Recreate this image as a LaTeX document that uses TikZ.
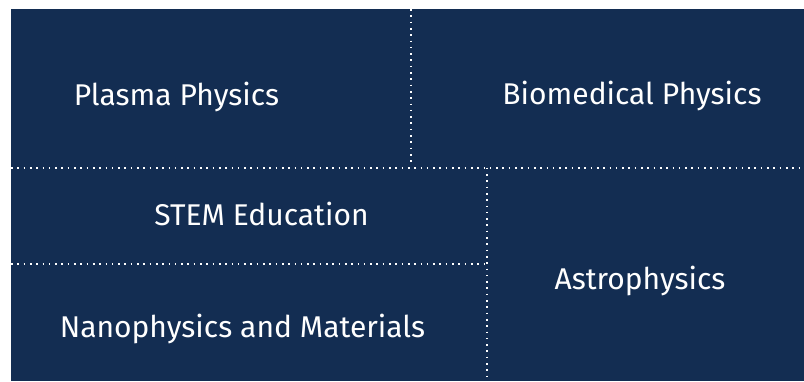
\documentclass[tikz,border=0pt]{standalone}
\usepackage{fontspec}
\setmainfont{Fira Sans}
\usepackage{xcolor}
\usetikzlibrary{positioning}
\definecolor{navy}{RGB}{19,45,82}

\begin{document}
\begin{tikzpicture}[
  x=1pt, y=-1pt,
  area/.style={text=white, anchor=base, font=\fontsize{30}{35}\selectfont},
  divider/.style={white, line width=1.6pt, dash pattern=on 1.6pt off 4.7pt}
]
\useasboundingbox (0,0) rectangle (804,381);
\fill[navy] (11,9) rectangle (804,381);

% dividers
\coordinate (topmid) at (410.7,9);
\coordinate (topmidend) at (410.7,162);
\coordinate (rowleft) at (11,167.7);
\coordinate (rowright) at (804,167.7);
\coordinate (lowmid) at (486.7,167.7);
\coordinate (lowmidend) at (486.7,381);
\coordinate (subleft) at (11,264);
\coordinate (subright) at (486.7,264);
\draw[divider] (topmid) -- (topmidend);
\draw[divider] (rowleft) -- (rowright);
\draw[divider] (lowmid) -- (lowmidend);
\draw[divider] (subleft) -- (subright);

% labels
\node[area] (plasma) at (176.5,105) {Plasma Physics};
\node[area] (biomed) at (632,104) {Biomedical Physics};
\node[area] (stem) at (261.5,225) {STEM Education};
\node[area] (astro) at (640,289) {Astrophysics};
\node[area] (nano) at (242.5,337) {Nanophysics and Materials};
\end{tikzpicture}
\end{document}
